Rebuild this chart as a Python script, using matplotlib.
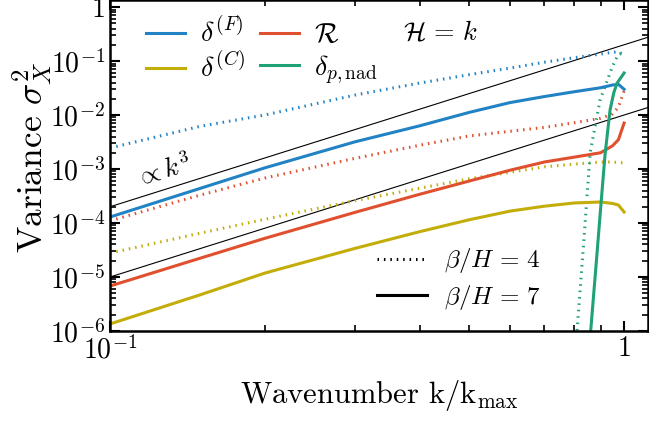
import numpy as np
import matplotlib
matplotlib.use('Agg')
import matplotlib.pyplot as plt
from matplotlib.lines import Line2D
from matplotlib.ticker import FuncFormatter, LogLocator, NullFormatter

plt.rcParams['font.family'] = 'serif'
plt.rcParams['font.serif'] = ['cmr10']
plt.rcParams['mathtext.fontset'] = 'cm'
plt.rcParams['axes.formatter.use_mathtext'] = True
plt.rcParams['axes.unicode_minus'] = False

# wavenumber grid (k/k_max) shared by the smooth spectra
k = [0.1, 0.15, 0.2, 0.3, 0.4, 0.5, 0.6, 0.7, 0.8, 0.9, 0.95, 0.975, 1.0]

# beta/H = 7 (solid)
dF_7 = [1.29e-4, 4.4e-4, 1.05e-3, 3.2e-3, 6.3e-3, 1.12e-2, 1.7e-2, 2.2e-2, 2.7e-2, 3.2e-2, 3.6e-2, 3.7e-2, 3.0e-2]
dC_7 = [1.35e-6, 4.7e-6, 1.18e-5, 3.4e-5, 6.9e-5, 1.15e-4, 1.66e-4, 2.05e-4, 2.35e-4, 2.45e-4, 2.3e-4, 2.15e-4, 1.6e-4]
R_7 = [6.8e-6, 2.24e-5, 5.2e-5, 1.58e-4, 3.4e-4, 6.0e-4, 9.5e-4, 1.35e-3, 1.66e-3, 2.0e-3, 2.7e-3, 3.5e-3, 7.1e-3]

# beta/H = 4 (dotted)
dF_4 = [2.45e-3, 6.2e-3, 1.0e-2, 2.35e-2, 3.9e-2, 5.6e-2, 7.4e-2, 9.5e-2, 0.115, 0.135, 0.145, 0.148, 0.13]
dC_4 = [2.77e-5, 6.5e-5, 1.17e-4, 2.6e-4, 4.4e-4, 6.6e-4, 8.7e-4, 1.1e-3, 1.23e-3, 1.35e-3, 1.35e-3, 1.32e-3, 1.3e-3]
R_4 = [1.1e-4, 3.3e-4, 6.8e-4, 1.58e-3, 2.75e-3, 4.1e-3, 5.0e-3, 5.9e-3, 7.2e-3, 8.7e-3, 1.05e-2, 1.4e-2, 2.8e-2]

# non-adiabatic pressure only turns on close to k_max
k_nad7 = [0.855, 0.861, 0.882, 0.898, 0.918, 0.939, 0.955, 0.969, 0.991, 1.0]
pnad_7 = [3.6e-7, 1e-6, 1.66e-5, 1.4e-4, 1.8e-3, 1.24e-2, 2.6e-2, 3.9e-2, 5.3e-2, 6.0e-2]
k_nad4 = [0.806, 0.810, 0.836, 0.859, 0.898, 0.948, 0.973, 0.991]
pnad_4 = [4.5e-7, 1e-6, 5.5e-5, 2.0e-3, 1.9e-2, 7.7e-2, 0.13, 0.14]

# k^3 guide lines
k_ref = [0.1, 1.2]
amp_ref = [0.2, 0.01]

c_F = '#2183c4'
c_C = '#c3ad08'
c_R = '#e0502e'
c_p = '#1fa277'

dots = (0, (0.5, 1.6))
lw = 2.2

fig = plt.figure(figsize=(6.49, 4.24), dpi=100)
ax = fig.add_axes([110/649, 93/424, 538/649, 331/424])

kr = np.array(k_ref)
for a in amp_ref:
    ax.plot(kr, a*kr**3, color='k', lw=0.8)

ax.plot(k, dF_4, color=c_F, lw=lw, ls=dots)
ax.plot(k, dC_4, color=c_C, lw=lw, ls=dots)
ax.plot(k, R_4, color=c_R, lw=lw, ls=dots)
ax.plot(k_nad4, pnad_4, color=c_p, lw=lw, ls=dots)

hF, = ax.plot(k, dF_7, color=c_F, lw=lw)
hC, = ax.plot(k, dC_7, color=c_C, lw=lw)
hR, = ax.plot(k, R_7, color=c_R, lw=lw)
hp, = ax.plot(k_nad7, pnad_7, color=c_p, lw=lw)

ax.set_xscale('log')
ax.set_yscale('log')
ax.set_xlim(0.1, 1.113)
ax.set_ylim(1e-6, 1.35)

def fmt(v, pos):
    e = int(round(np.log10(v)))
    if e == 0:
        return r'$1$'
    return r'$10^{%d}$' % e

ax.xaxis.set_major_formatter(FuncFormatter(fmt))
ax.yaxis.set_major_formatter(FuncFormatter(fmt))
ax.xaxis.set_minor_formatter(NullFormatter())
ax.yaxis.set_major_locator(LogLocator(base=10, numticks=20))
ax.yaxis.set_minor_locator(LogLocator(base=10, subs=np.arange(2, 10), numticks=20))
ax.yaxis.set_minor_formatter(NullFormatter())
ax.tick_params(which='both', direction='in', top=True, right=True, labelsize=20)
ax.tick_params(which='major', length=7, width=1.5)
ax.tick_params(which='minor', length=4, width=1.2)
for s in ax.spines.values():
    s.set_linewidth(1.8)

ax.set_xlabel(r'Wavenumber k/k$_\mathrm{max}$', fontsize=22, labelpad=10)
ax.set_ylabel(r'Variance $\sigma_X^2$', fontsize=25.5)
ax.yaxis.set_label_coords(-0.105, 0.525)

ax.text(0.1134, 4.9e-4, r'$\propto k^3$', fontsize=19, rotation=15,
        rotation_mode='anchor', ha='left', va='baseline')
ax.text(0.545, 0.903, r'$\mathcal{H}\,=\,k$', fontsize=19, transform=ax.transAxes, va='center')

leg1 = ax.legend([hF, hC, hR, hp],
                 [r'$\delta^{(F)}$', r'$\delta^{(C)}$', r'$\mathcal{R}$', r'$\delta_{p,\mathrm{nad}}$'],
                 ncol=2, loc='upper left', bbox_to_anchor=(0.02, 1.02), frameon=False,
                 fontsize=20, handlelength=1.4, handletextpad=0.55, columnspacing=0.55,
                 labelspacing=0.18)
ax.add_artist(leg1)

h4 = Line2D([], [], color='k', lw=lw, ls=dots)
h7 = Line2D([], [], color='k', lw=lw)
ax.legend([h4, h7], [r'$\beta/H\,=\,4$', r'$\beta/H\,=\,7$'], loc='lower left',
          bbox_to_anchor=(0.455, -0.01), frameon=False, fontsize=18,
          handlelength=2.0, handletextpad=0.65, labelspacing=0.3)

fig.savefig('out.png', dpi=100)
